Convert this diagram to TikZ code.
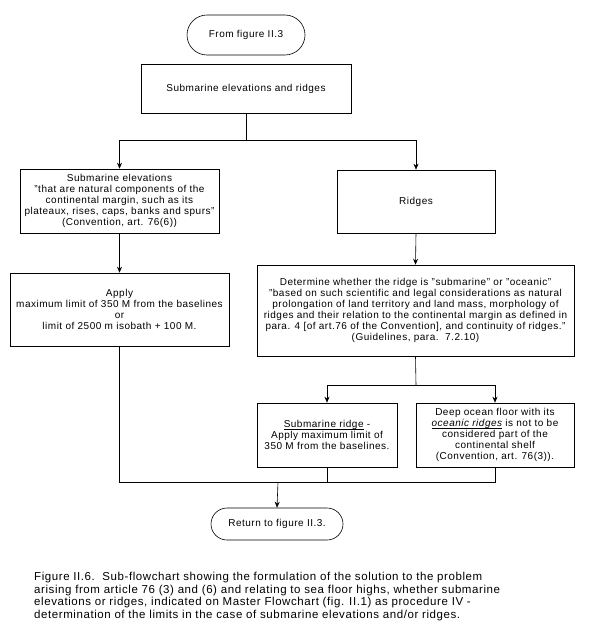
\documentclass[tikz,border=0pt]{standalone}
\usepackage{fontspec}
\setmainfont{Liberation Sans}[LetterSpace=5]
\usetikzlibrary{shapes.misc,arrows.meta}
\newcommand\ulin[1]{\setbox0\hbox{#1}\rlap{\rule[-1.6pt]{\wd0}{0.5pt}}\box0\relax}
\tikzset{
  box/.style={draw,line width=0.6pt,rectangle,align=center,inner sep=2pt,font=\fontsize{10}{11}\selectfont},
  term/.style={draw,line width=0.6pt,rounded rectangle,align=center,inner sep=2pt,font=\fontsize{10}{11}\selectfont},
  conn/.style={line width=0.6pt},
  arr/.style={conn,-{Stealth[length=6pt,width=5pt]}}
}
\begin{document}
\begin{tikzpicture}[x=1pt,y=-1pt]
\useasboundingbox (0,0) rectangle (590,640);
\node[term,minimum width=122pt,minimum height=40pt] (from) at (246,35) {From figure II.3};
\node[box,minimum width=210pt,minimum height=49pt] (top) at (246,88.5) {Submarine elevations and ridges};
\node[box,minimum width=199pt,minimum height=64pt] (elev) at (119.5,201) {Submarine elevations\\"that are natural components of the\\continental margin, such as its\\plateaux, rises, caps, banks and spurs"\\(Convention, art. 76(6))};
\node[box,minimum width=158pt,minimum height=63pt] (ridges) at (416,201.5) {Ridges};
\node[box,minimum width=219pt,minimum height=73pt] (apply) at (119.5,309.5) {Apply\\maximum limit of 350 M from the baselines\\or\\limit of 2500 m isobath + 100 M.};
\node[box,minimum width=317pt,minimum height=91pt] (det) at (415.5,310.5) {Determine whether the ridge is "submarine" or "oceanic"\\"based on such scientific and legal considerations as natural\\prolongation of land territory and land mass, morphology of\\ridges and their relation to the continental margin as defined in\\para. 4 [of art.76 of the Convention], and continuity of ridges."\\(Guidelines, para.\ \ 7.2.10)};
\node[box,minimum width=140pt,minimum height=64pt] (subr) at (327,435) {\ulin{Submarine ridge} -\\Apply maximum limit of\\350 M from the baselines.};
\node[box,minimum width=158pt,minimum height=64pt] (deep) at (495,435) {Deep ocean floor with its\\\ulin{\itshape oceanic ridges} is not to be\\considered part of the\\continental shelf\\(Convention, art. 76(3)).};
\node[term,minimum width=136pt,minimum height=32pt] (ret) at (277,524) {Return to figure II.3.};
\node[anchor=north west,align=left,inner sep=0pt,font=\fontsize{11.5}{12.7}\selectfont] (cap) at (34,572) {Figure II.6.\ \ Sub-flowchart showing the formulation of the solution to the problem\\arising from article 76 (3) and (6) and relating to sea floor highs, whether submarine\\elevations or ridges, indicated on Master Flowchart (fig. II.1) as procedure IV -\\determination of the limits in the case of submarine elevations and/or ridges.};
\coordinate (s1) at (246,140);
\coordinate (s2) at (416,385);
\coordinate (m) at (278,482);
\draw[conn] (top.south) -- (s1);
\draw[arr] (s1) -| (elev.north);
\draw[arr] (s1) -| (ridges.north);
\draw[arr] (elev.south) -- (apply.north);
\draw[arr] (ridges.south) -- (det.north);
\draw[conn] (det.south) -- (s2);
\draw[arr] (s2) -| (subr.north);
\draw[arr] (s2) -| (deep.north);
\draw[conn] (apply.south) |- (m);
\draw[conn] (subr.south) |- (m);
\draw[conn] (deep.south) |- (m);
\draw[arr] (m) -- (ret.north);
\end{tikzpicture}
\end{document}
